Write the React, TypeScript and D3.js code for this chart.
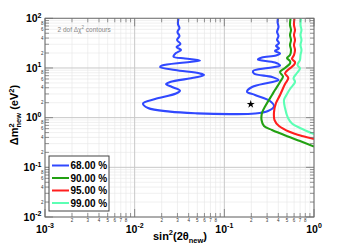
import React from "react";
import * as d3 from "d3";

// contour points: [sin^2(2theta), dm^2 (eV^2)]
const contour68: [number, number][] = [
  [0.0308, 100], [0.0304, 76.8], [0.0316, 63.8], [0.03, 53.0], [0.0316, 44.0],
  [0.0297, 36.6], [0.0324, 30.4], [0.0293, 26.4], [0.0329, 23.0], [0.0289, 20.0],
  [0.0271, 17.0], [0.0364, 15.5], [0.0535, 14.1], [0.0364, 12.9], [0.0202, 11.2],
  [0.0192, 10.5], [0.0282, 9.1], [0.0535, 7.74], [0.0593, 7.22], [0.0471, 6.43],
  [0.0248, 5.22], [0.0224, 4.76], [0.0261, 4.14], [0.032, 3.52], [0.0289, 3.06],
  [0.0169, 2.37], [0.0124, 1.93], [0.0141, 1.56], [0.0248, 1.32], [0.0496, 1.22],
  [0.116, 1.18], [0.22, 1.21], [0.307, 1.36], [0.358, 1.68], [0.323, 2.16],
  [0.22, 2.86], [0.179, 3.33], [0.204, 4.14], [0.323, 5.1], [0.402, 5.73],
  [0.34, 6.58], [0.214, 7.74], [0.209, 8.69], [0.307, 9.99], [0.418, 11.2],
  [0.367, 12.9], [0.237, 14.8], [0.263, 16.25], [0.377, 17.8], [0.418, 19.6],
  [0.367, 22.0], [0.407, 24.7], [0.377, 27.7], [0.407, 31.8], [0.387, 36.6],
  [0.402, 44.0], [0.387, 53.0], [0.402, 66.8], [0.392, 84.3], [0.397, 100],
];

const contour90: [number, number][] = [
  [0.547, 100], [0.54, 73.3], [0.554, 58.1], [0.54, 46.1], [0.554, 36.6],
  [0.54, 29.0], [0.554, 23.0], [0.54, 18.2], [0.5, 15.9], [0.54, 13.8],
  [0.54, 12.3], [0.475, 9.99], [0.418, 8.3], [0.451, 6.74], [0.418, 5.22],
  [0.367, 3.6], [0.34, 2.86], [0.291, 1.8], [0.263, 1.24], [0.26, 0.896],
  [0.277, 0.679], [0.34, 0.564], [0.513, 0.417], [0.698, 0.339], [1.0, 0.262],
];

const contour95: [number, number][] = [
  [0.606, 100], [0.598, 73.3], [0.614, 58.1], [0.598, 46.1], [0.614, 36.6],
  [0.598, 29.0], [0.614, 23.0], [0.598, 18.2], [0.568, 15.2], [0.614, 13.2],
  [0.598, 11.5], [0.526, 9.54], [0.475, 7.81], [0.517, 6.28], [0.475, 4.76],
  [0.418, 2.86], [0.377, 1.97], [0.358, 1.29], [0.363, 0.896], [0.407, 0.679],
  [0.54, 0.514], [0.735, 0.427], [1.0, 0.372],
];

const contour99: [number, number][] = [
  [0.716, 100], [0.707, 73.3], [0.725, 58.1], [0.707, 46.1], [0.725, 36.6],
  [0.707, 29.0], [0.725, 23.0], [0.707, 18.2], [0.698, 14.5], [0.655, 11.5],
  [0.698, 9.76], [0.646, 7.92], [0.591, 6.28], [0.614, 5.22], [0.54, 3.77],
  [0.493, 2.86], [0.463, 2.27], [0.475, 1.56], [0.513, 0.983], [0.568, 0.762],
  [0.698, 0.619], [1.0, 0.468],
];

const bestFit: [number, number] = [0.197, 1.86];

const levels = ["68.00 %", "90.00 %", "95.00 %", "99.00 %"];
const colors = ["#3048ff", "#22a012", "#ff1e1e", "#5cffb4"];
const contours = [contour68, contour90, contour95, contour99];

const xExponents = [-3, -2, -1, 0];
const yExponents = [-2, -1, 0, 1, 2];
const xMinorLabels = [2, 3, 4, 5, 6, 7, 8];
const yMinorLabels = [2, 4, 6, 8];

const width = 346;
const height = 246;
const left = 45, right = 314, top = 18.3, bottom = 217;
const font = "'Liberation Sans', Arial, Helvetica, sans-serif";

export default function App() {
  const x = d3.scaleLog().domain([1e-3, 1]).range([left, right]);
  const y = d3.scaleLog().domain([1e-2, 1e2]).range([bottom, top]);

  const line = d3.line<[number, number]>()
    .x((d) => x(d[0]))
    .y((d) => y(d[1]))
    .curve(d3.curveCatmullRom.alpha(0.5));

  const xMinor: number[] = [];
  xExponents.slice(0, -1).forEach((e) => {
    for (let k = 2; k <= 9; k++) xMinor.push(k * Math.pow(10, e));
  });
  const yMinor: number[] = [];
  yExponents.slice(0, -1).forEach((e) => {
    for (let k = 2; k <= 9; k++) yMinor.push(k * Math.pow(10, e));
  });

  const star = d3.symbol(d3.symbolStar, 20)();

  return (
    <svg width={width} height={height} style={{ position: "fixed", left: 0, top: 0, background: "#fff" }} fontFamily={font}>
      <defs>
        <clipPath id="plot">
          <rect x={left} y={top} width={right - left} height={bottom - top} />
        </clipPath>
      </defs>

      {/* grid */}
      <g strokeWidth={0.6} stroke="#e6e6e6">
        {xMinor.map((v) => <line key={"gx" + v} x1={x(v)} x2={x(v)} y1={top} y2={bottom} />)}
        {yMinor.map((v) => <line key={"gy" + v} y1={y(v)} y2={y(v)} x1={left} x2={right} />)}
      </g>
      <g strokeWidth={1} stroke="#c8c8c8">
        {xExponents.map((e) => <line key={"Gx" + e} x1={x(10 ** e)} x2={x(10 ** e)} y1={top} y2={bottom} />)}
        {yExponents.map((e) => <line key={"Gy" + e} y1={y(10 ** e)} y2={y(10 ** e)} x1={left} x2={right} />)}
      </g>

      {/* contours */}
      <g clipPath="url(#plot)" fill="none" strokeWidth={2.1} strokeLinejoin="round">
        {contours.map((c, i) => (
          <path key={levels[i]} d={line(c) || ""} stroke={colors[i]} />
        ))}
      </g>
      <path d={star || ""} transform={`translate(${x(bestFit[0])},${y(bestFit[1])})`} fill="#000" />

      {/* frame and ticks */}
      <rect x={left} y={top} width={right - left} height={bottom - top} fill="none" stroke="#777" strokeWidth={1} />
      <g stroke="#666" strokeWidth={0.7}>
        {xMinor.map((v) => (
          <g key={"tx" + v}>
            <line x1={x(v)} x2={x(v)} y1={bottom} y2={bottom - 4} />
            <line x1={x(v)} x2={x(v)} y1={top} y2={top + 4} />
          </g>
        ))}
        {yMinor.map((v) => (
          <g key={"ty" + v}>
            <line y1={y(v)} y2={y(v)} x1={left} x2={left + 4} />
            <line y1={y(v)} y2={y(v)} x1={right} x2={right - 4} />
          </g>
        ))}
        {xExponents.map((e) => (
          <g key={"Tx" + e}>
            <line x1={x(10 ** e)} x2={x(10 ** e)} y1={bottom} y2={bottom - 8} />
            <line x1={x(10 ** e)} x2={x(10 ** e)} y1={top} y2={top + 8} />
          </g>
        ))}
        {yExponents.map((e) => (
          <g key={"Ty" + e}>
            <line y1={y(10 ** e)} y2={y(10 ** e)} x1={left} x2={left + 8} />
            <line y1={y(10 ** e)} y2={y(10 ** e)} x1={right} x2={right - 8} />
          </g>
        ))}
      </g>

      {/* tick labels */}
      <g fontWeight="bold" fontSize={10.5} fill="#000">
        {xExponents.map((e) => (
          <text key={"lx" + e} x={x(10 ** e)} y={232.5} textAnchor="middle">
            10<tspan dy={-4.5} fontSize={7}>{String(e)}</tspan>
          </text>
        ))}
        {yExponents.map((e) => (
          <text key={"ly" + e} x={41.5} y={y(10 ** e) + 3.8} textAnchor="end">
            10<tspan dy={-4.5} fontSize={7}>{String(e)}</tspan>
          </text>
        ))}
      </g>
      <g fontSize={4.5} fill="#333">
        {xExponents.slice(0, -1).map((e) =>
          xMinorLabels.map((k) => (
            <text key={"mx" + e + k} x={x(k * 10 ** e)} y={221.8} textAnchor="middle">{k}</text>
          ))
        )}
        {yExponents.slice(0, -1).map((e) =>
          yMinorLabels.map((k) => (
            <text key={"my" + e + k} x={43.5} y={y(k * 10 ** e) + 1.6} textAnchor="end">{k}</text>
          ))
        )}
      </g>

      {/* axis titles */}
      <text x={180} y={239.5} textAnchor="middle" fontWeight="bold" fontSize={11}>
        sin<tspan dy={-4.5} fontSize={7.5}>2</tspan><tspan dy={4.5}>(2θ</tspan>
        <tspan dy={3} fontSize={7.5}>new</tspan><tspan dy={-3}>)</tspan>
      </text>
      <text transform="translate(18,115) rotate(-90)" textAnchor="middle" fontWeight="bold" fontSize={11}>
        Δm<tspan dy={-4.5} fontSize={7.5}>2</tspan>
        <tspan dx={-4.2} dy={7.5} fontSize={7.5}>new</tspan>
        <tspan dy={-3}> (eV</tspan><tspan dy={-4.5} fontSize={7.5}>2</tspan><tspan dy={4.5}>)</tspan>
      </text>

      <text x={57.5} y={31.5} fontSize={6.5} fill="#888">
        2 dof Δχ<tspan dy={-2.5} fontSize={4.5}>2</tspan><tspan dy={2.5}> contours</tspan>
      </text>

      {/* legend */}
      <rect x={49} y={156} width={60} height={55} fill="#fff" stroke="#444" strokeWidth={1} />
      {levels.map((lab, i) => {
        const ry = 165.5 + i * 12.5;
        return (
          <g key={lab}>
            <line x1={52} x2={69} y1={ry} y2={ry} stroke={colors[i]} strokeWidth={2} />
            <text x={70.5} y={ry + 3.6} fontSize={10} fontWeight="bold">{lab}</text>
          </g>
        );
      })}
    </svg>
  );
}
